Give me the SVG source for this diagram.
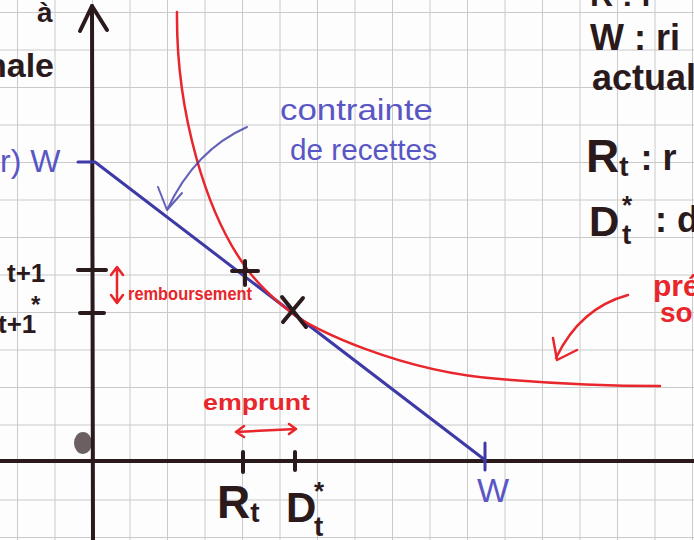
<svg xmlns="http://www.w3.org/2000/svg" width="694" height="540" viewBox="0 0 694 540">
<defs>
<style>
.grid{stroke:#cacaca;stroke-width:1;fill:none}
.ink{stroke:#2b1a1c;stroke-linecap:round;stroke-linejoin:round;fill:none}
.blue{stroke:#3d39a6;fill:none;stroke-linecap:round;stroke-linejoin:round}
.red{stroke:#e8262b;fill:none;stroke-linecap:round;stroke-linejoin:round}
.tb{font-family:"Liberation Sans",sans-serif;fill:#2b1a1c;font-weight:bold}
.tblue{font-family:"Liberation Sans",sans-serif;fill:#5a56c4}
.tred{font-family:"Liberation Sans",sans-serif;fill:#e8262b;font-weight:bold}
</style>
</defs>
<rect width="694" height="540" fill="#fdfdfd"/>
<g id="grid" class="grid">
<path d="M17.5,0V540M55,0V540M92.5,0V540M130,0V540M167.5,0V540M205,0V540M242.5,0V540M280,0V540M317.5,0V540M355,0V540M392.5,0V540M430,0V540M467.5,0V540M505,0V540M542.5,0V540M580,0V540M617.5,0V540M655,0V540M692.5,0V540"/>
<path d="M0,12.5H694M0,50H694M0,87.5H694M0,125H694M0,162.5H694M0,200H694M0,237.5H694M0,275H694M0,312.5H694M0,350H694M0,387.5H694M0,425H694M0,462.5H694M0,500H694M0,537.5H694"/>
</g>
<ellipse id="smudge" cx="83" cy="443" rx="9" ry="11" fill="#3a2a2c" opacity="0.75"/>
<g id="axes" class="ink" stroke-width="4">
<path d="M93,540 L92,6"/>
<path d="M80,31 L92,6 L107,30"/>
<path d="M0,461 L694,461"/>
<path d="M78,270 H106 M80,313 H104 M243,452 V472 M295,452 V470"/>
</g>
<g id="connectors">
<path id="budget-line" class="blue" stroke-width="3" d="M78,162 L95,162 L485,460"/>
<path class="blue" stroke-width="3" d="M485,443 V470"/>
<path id="indifference-curve" class="red" stroke-width="2.5" d="M177,12 C176,110 205,215 250,273 C265,292 280,304 293,314 C311,328 400,372 500,379 C560,384 620,386 660,386"/>
<path id="arrow-contrainte" class="blue" stroke-width="2" stroke-opacity="0.8" d="M247,127 Q195,150 167,210 M158,187 L167,210 L182,193"/>
<path id="arrow-pref" class="red" stroke-width="2.5" d="M628,295 Q580,308 556,358 M553,338 L557,360 L577,350"/>
<path id="arrow-remb" class="red" stroke-width="2.5" d="M117,268 V302 M111,275 L117,267 L123,275 M111,295 L117,303 L123,295"/>
<path id="arrow-emprunt" class="red" stroke-width="2.5" d="M236,432 L296,429 M244,426 L236,432 L244,437 M289,424 L296,429 L289,434"/>
</g>
<g id="markers" class="ink" stroke-width="4">
<path d="M232,271 H258 M245,261 V285"/>
<path d="M282,297 L306,327 M303,298 L283,322"/>
</g>
<g id="labels-left">
<text class="tb" x="37" y="22" font-size="28">à</text>
<text class="tb" x="-14" y="77" font-size="34">nale</text>
<text class="tblue" x="0" y="172" font-size="32">r) W</text>
<text class="tb" x="7" y="282" font-size="26">t+1</text>
<text class="tb" x="31" y="313" font-size="24">*<tspan x="-2" y="333" font-size="26">t+1</tspan></text>
</g>
<g id="labels-axis">
<text class="tb" x="217" y="518" font-size="46">R<tspan font-size="28" dy="4">t</tspan></text>
<text class="tb" x="286" y="522" font-size="42">D<tspan x="314" y="500" font-size="26">*</tspan><tspan x="314" y="536" font-size="28">t</tspan></text>
<text class="tblue" x="477" y="502" font-size="34">W</text>
</g>
<g id="labels-curve">
<text class="tblue" x="280" y="120" font-size="30" textLength="153" lengthAdjust="spacingAndGlyphs">contrainte</text>
<text class="tblue" x="290" y="160" font-size="30" textLength="147" lengthAdjust="spacingAndGlyphs">de recettes</text>
<text class="tred" x="128" y="300" font-size="18" textLength="124" lengthAdjust="spacingAndGlyphs">remboursement</text>
<text class="tred" x="203" y="410" font-size="22" textLength="107" lengthAdjust="spacingAndGlyphs">emprunt</text>
<text class="tred" x="653" y="296" font-size="30">pré</text>
<text class="tred" x="660" y="322" font-size="28">sol</text>
</g>
<g id="legend">
<text class="tb" x="590" y="6" font-size="32">R : r</text>
<text class="tb" x="590" y="50" font-size="36">W : ri</text>
<text class="tb" x="592" y="90" font-size="36">actuali</text>
<text class="tb" x="586" y="172" font-size="46">R<tspan font-size="28" dy="4">t</tspan><tspan font-size="36" dx="12" dy="-6">: r</tspan></text>
<text class="tb" x="589" y="236" font-size="42">D<tspan x="622" y="214" font-size="26">*</tspan><tspan x="622" y="244" font-size="28">t</tspan><tspan x="655" y="232" font-size="36">: d</tspan></text>
</g>
</svg>
